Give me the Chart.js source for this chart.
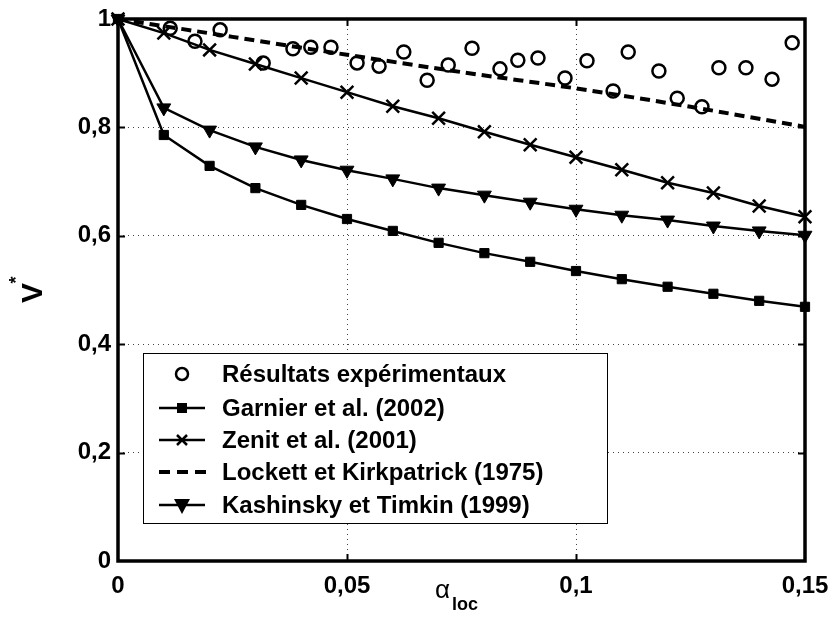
<!DOCTYPE html>
<html lang="fr">
<head>
    <meta charset="UTF-8">
    <title>Vitesse relative en fonction du taux de vide local</title>
    <script src="https://cdn.jsdelivr.net/npm/chart.js"></script>
    <style>
        html, body { margin: 0; padding: 0; background: #fff; }
    </style>
</head>
<body>
    <canvas id="vChart" width="833" height="617"></canvas>
    <script>
        // alpha_loc des modeles
        const alphaModel = [0, 0.01, 0.02, 0.03, 0.04, 0.05, 0.06, 0.07, 0.08, 0.09, 0.10, 0.11, 0.12, 0.13, 0.14, 0.15];
        const garnier   = [1, 0.786, 0.729, 0.688, 0.657, 0.631, 0.609, 0.587, 0.568, 0.552, 0.535, 0.520, 0.506, 0.493, 0.480, 0.469];
        const zenit     = [1, 0.974, 0.943, 0.917, 0.891, 0.865, 0.839, 0.817, 0.792, 0.768, 0.745, 0.722, 0.698, 0.679, 0.655, 0.635];
        const kashinsky = [1, 0.836, 0.795, 0.764, 0.740, 0.721, 0.705, 0.688, 0.675, 0.662, 0.649, 0.638, 0.629, 0.618, 0.609, 0.601];

        // Lockett et Kirkpatrick (courbe en tirets)
        const lockettX = [0, 0.025, 0.05, 0.075, 0.10, 0.125, 0.15];
        const lockett  = [1, 0.967, 0.934, 0.902, 0.872, 0.838, 0.801];

        // points experimentaux
        const expX = [0.0114, 0.0168, 0.0223, 0.0317, 0.0382, 0.0421, 0.0465, 0.0522, 0.0570, 0.0624, 0.0675, 0.0721, 0.0773, 0.0834,
                      0.0873, 0.0917, 0.0976, 0.1024, 0.1081, 0.1114, 0.1181, 0.1221, 0.1275, 0.1312, 0.1371, 0.1428, 0.1472];
        const expY = [0.983, 0.959, 0.980, 0.919, 0.945, 0.948, 0.948, 0.919, 0.913, 0.939, 0.887, 0.915, 0.946, 0.908,
                      0.924, 0.928, 0.891, 0.923, 0.867, 0.939, 0.904, 0.854, 0.838, 0.910, 0.910, 0.889, 0.956];

        const xTicks = [0, 0.05, 0.1, 0.15];
        const yTicks = [0, 0.2, 0.4, 0.6, 0.8, 1];

        const legendLabels = [
            'Résultats expérimentaux',
            'Garnier et al. (2002)',
            'Zenit et al. (2001)',
            'Lockett et Kirkpatrick (1975)',
            'Kashinsky et Timkin (1999)'
        ];

        const FONT = '"Liberation Sans", Arial, Helvetica, sans-serif';
        const pts = (xs, ys) => xs.map((x, i) => ({ x: x, y: ys[i] }));
        const fmt = v => String(Math.round(v * 100) / 100).replace('.', ',');

        // petit dessin des symboles pour la legende
        function marker(ctx, type, x, y) {
            ctx.save();
            ctx.fillStyle = '#000';
            ctx.strokeStyle = '#000';
            ctx.beginPath();
            if (type === 'circle') {
                ctx.lineWidth = 2.5;
                ctx.arc(x, y, 6, 0, Math.PI * 2);
                ctx.stroke();
            } else if (type === 'square') {
                ctx.rect(x - 5, y - 5, 10, 10);
                ctx.fill();
            } else if (type === 'cross') {
                ctx.lineWidth = 2.5;
                ctx.moveTo(x - 5, y - 5); ctx.lineTo(x + 5, y + 5);
                ctx.moveTo(x + 5, y - 5); ctx.lineTo(x - 5, y + 5);
                ctx.stroke();
            } else if (type === 'tri') {
                ctx.moveTo(x - 8, y - 6);
                ctx.lineTo(x + 8, y - 6);
                ctx.lineTo(x, y + 9);
                ctx.closePath();
                ctx.fill();
            }
            ctx.restore();
        }

        const decorPlugin = {
            id: 'decor',
            beforeDatasetsDraw(chart) {
                const ctx = chart.ctx;
                const a = chart.chartArea;
                const xs = chart.scales.x, ys = chart.scales.y;
                ctx.save();
                ctx.strokeStyle = '#000';
                // petits traits de graduation vers l'interieur
                ctx.lineWidth = 2;
                ctx.beginPath();
                xTicks.slice(1, -1).forEach(v => {
                    const px = Math.round(xs.getPixelForValue(v)) + 0.5;
                    ctx.moveTo(px, a.bottom); ctx.lineTo(px, a.bottom - 7);
                    ctx.moveTo(px, a.top); ctx.lineTo(px, a.top + 7);
                });
                yTicks.slice(1, -1).forEach(v => {
                    const py = Math.round(ys.getPixelForValue(v)) + 0.5;
                    ctx.moveTo(a.left, py); ctx.lineTo(a.left + 7, py);
                    ctx.moveTo(a.right, py); ctx.lineTo(a.right - 7, py);
                });
                ctx.stroke();
                // cadre epais
                ctx.lineWidth = 3.5;
                ctx.strokeRect(a.left, a.top, a.right - a.left, a.bottom - a.top);
                ctx.restore();
            },
            afterDraw(chart) {
                const ctx = chart.ctx;
                ctx.save();

                // legende
                ctx.fillStyle = '#fff';
                ctx.fillRect(143.5, 353.5, 464, 170);
                ctx.strokeStyle = '#000';
                ctx.lineWidth = 1;
                ctx.strokeRect(143.5, 353.5, 464, 170);

                const rows = [374, 408, 440, 472, 505];
                const kinds = ['circle', 'square', 'cross', 'dash', 'tri'];
                rows.forEach((ry, i) => {
                    ctx.strokeStyle = '#000';
                    if (kinds[i] === 'dash') {
                        ctx.lineWidth = 4;
                        ctx.setLineDash([11, 7]);
                        ctx.beginPath();
                        ctx.moveTo(159, ry); ctx.lineTo(206, ry);
                        ctx.stroke();
                        ctx.setLineDash([]);
                    } else if (kinds[i] !== 'circle') {
                        ctx.lineWidth = 2.5;
                        ctx.beginPath();
                        ctx.moveTo(159, ry); ctx.lineTo(205, ry);
                        ctx.stroke();
                    }
                    marker(ctx, kinds[i], 182, ry);
                    ctx.fillStyle = '#000';
                    ctx.font = 'bold 24px ' + FONT;
                    ctx.textAlign = 'left';
                    ctx.textBaseline = 'middle';
                    ctx.fillText(legendLabels[i], 222, ry + 1);
                });

                // titre de l'axe x : alpha_loc
                ctx.textBaseline = 'alphabetic';
                ctx.textAlign = 'left';
                ctx.font = '26px ' + FONT;
                ctx.fillText('α', 435, 598);
                ctx.font = 'bold 18px ' + FONT;
                ctx.fillText('loc', 452, 610);

                // titre de l'axe y : V*
                ctx.translate(42, 293);
                ctx.rotate(-Math.PI / 2);
                ctx.textAlign = 'center';
                ctx.font = 'bold 30px ' + FONT;
                ctx.fillText('V', 0, 0);
                ctx.font = 'bold 18px ' + FONT;
                ctx.fillText('*', 13, -20);
                ctx.restore();
            }
        };

        const ctx = document.getElementById('vChart').getContext('2d');
        const vChart = new Chart(ctx, {
            type: 'line',
            data: {
                datasets: [
                    {
                        label: legendLabels[0],
                        data: pts(expX, expY),
                        showLine: false,
                        pointStyle: 'circle',
                        pointRadius: 6.5,
                        pointBorderWidth: 2.5,
                        pointBorderColor: '#000',
                        pointBackgroundColor: 'rgba(0,0,0,0)'
                    },
                    {
                        label: legendLabels[1],
                        data: pts(alphaModel, garnier),
                        borderColor: '#000',
                        borderWidth: 2.5,
                        pointStyle: 'rect',
                        pointRadius: 6.5,
                        pointBorderWidth: 1,
                        pointBorderColor: '#000',
                        pointBackgroundColor: '#000'
                    },
                    {
                        label: legendLabels[2],
                        data: pts(alphaModel, zenit),
                        borderColor: '#000',
                        borderWidth: 2.5,
                        pointStyle: 'crossRot',
                        pointRadius: 9,
                        pointBorderWidth: 2.5,
                        pointBorderColor: '#000'
                    },
                    {
                        label: legendLabels[3],
                        data: pts(lockettX, lockett),
                        borderColor: '#000',
                        borderWidth: 4,
                        borderDash: [10, 6],
                        tension: 0.3,
                        pointRadius: 0
                    },
                    {
                        label: legendLabels[4],
                        data: pts(alphaModel, kashinsky),
                        borderColor: '#000',
                        borderWidth: 2.5,
                        pointStyle: 'triangle',
                        pointRotation: 180,
                        pointRadius: 8,
                        pointBorderWidth: 1,
                        pointBorderColor: '#000',
                        pointBackgroundColor: '#000'
                    }
                ]
            },
            options: {
                responsive: false,
                animation: false,
                devicePixelRatio: 1,
                clip: false,
                layout: { padding: { top: 19, right: 28, left: 0, bottom: 0 } },
                plugins: {
                    legend: { display: false },
                    tooltip: { enabled: false }
                },
                scales: {
                    x: {
                        type: 'linear',
                        min: 0,
                        max: 0.15,
                        afterFit: s => { s.height = 56; s.paddingLeft = 0; s.paddingRight = 0; },
                        afterBuildTicks: s => { s.ticks = xTicks.map(v => ({ value: v })); },
                        ticks: {
                            callback: v => fmt(v),
                            color: '#000',
                            padding: 11,
                            maxRotation: 0,
                            font: { family: FONT, size: 24, weight: 'bold' }
                        },
                        grid: {
                            drawTicks: false,
                            color: c => (c.tick && (c.tick.value === 0 || c.tick.value === 0.15)) ? 'rgba(0,0,0,0)' : '#444',
                            lineWidth: 1
                        },
                        border: { display: false, dash: [1, 4] }
                    },
                    y: {
                        min: 0,
                        max: 1,
                        afterFit: s => { s.width = 118; s.paddingTop = 0; s.paddingBottom = 0; },
                        afterBuildTicks: s => { s.ticks = yTicks.map(v => ({ value: v })); },
                        ticks: {
                            callback: v => fmt(v),
                            color: '#000',
                            padding: 7,
                            font: { family: FONT, size: 24, weight: 'bold' }
                        },
                        grid: {
                            drawTicks: false,
                            color: c => (c.tick && (c.tick.value === 0 || c.tick.value === 1)) ? 'rgba(0,0,0,0)' : '#444',
                            lineWidth: 1
                        },
                        border: { display: false, dash: [1, 4] }
                    }
                }
            },
            plugins: [decorPlugin]
        });
    </script>
</body>
</html>
